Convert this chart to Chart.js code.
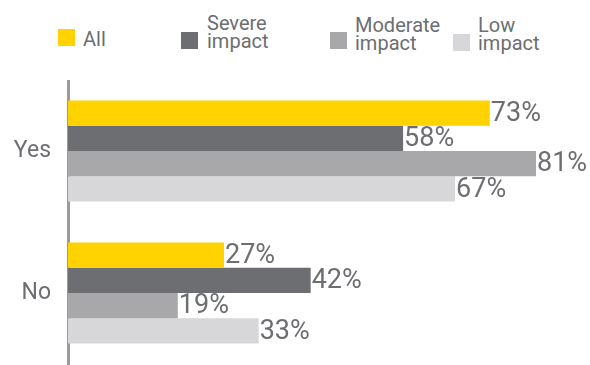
<!DOCTYPE html>
<html>
<head>
<meta charset="utf-8">
<script src="https://cdn.jsdelivr.net/npm/chart.js@4/dist/chart.umd.min.js"></script>
<style>
  body { margin: 0; background: #fff; font-family: Roboto, sans-serif; overflow: hidden; }
  #wrap { position: relative; width: 590px; height: 365px; }
  #grafico { position: absolute; left: 0; top: 80px; }
  .caixa { position: absolute; width: 17px; height: 17px; }
  .texto { position: absolute; color: #6d6e71; font-size: 20px; line-height: 18px; white-space: nowrap; }
</style>
</head>
<body>
<div id="wrap">
  <div id="legenda"></div>
  <canvas id="grafico" width="590" height="285"></canvas>
</div>
<script>
// dados
const categorias = ['Yes', 'No'];
const rotulos = [['All'], ['Severe', 'impact'], ['Moderate', 'impact'], ['Low', 'impact']];
const todos = [73, 27];
const severo = [58, 42];
const moderado = [81, 19];
const baixo = [67, 33];
const cores = ['#ffd200', '#6d6e71', '#a8a8aa', '#d7d7d9'];

const cinza = '#6d6e71';

// legenda em HTML (rótulos de duas linhas)
// [caixa x, caixa y, texto x, texto y]
const posLegenda = [[58, 29, 83, 30], [181, 32, 207, 14], [330, 32, 355, 16], [453, 34, 478, 16]];
const legenda = document.getElementById('legenda');
rotulos.forEach((r, i) => {
  const p = posLegenda[i];
  const c = document.createElement('div');
  c.className = 'caixa';
  c.style.left = p[0] + 'px';
  c.style.top = p[1] + 'px';
  c.style.background = cores[i];
  legenda.appendChild(c);
  const t = document.createElement('div');
  t.className = 'texto';
  t.style.left = p[2] + 'px';
  t.style.top = p[3] + 'px';
  t.innerHTML = r.join('<br>');
  legenda.appendChild(t);
});

// valores ao lado das barras
const valoresPlugin = {
  id: 'valores',
  afterDatasetsDraw(chart) {
    const ctx = chart.ctx;
    ctx.save();
    ctx.font = '27px Roboto, sans-serif';
    ctx.fillStyle = cinza;
    ctx.textAlign = 'left';
    ctx.textBaseline = 'middle';
    chart.data.datasets.forEach((ds, i) => {
      chart.getDatasetMeta(i).data.forEach((bar, j) => {
        ctx.fillText(ds.data[j] + '%', bar.x + 1, bar.y + 1);
      });
    });
    ctx.restore();
  }
};

new Chart(document.getElementById('grafico'), {
  type: 'bar',
  data: {
    labels: categorias,
    datasets: [
      { label: rotulos[0].join(' '), data: todos, backgroundColor: cores[0] },
      { label: rotulos[1].join(' '), data: severo, backgroundColor: cores[1] },
      { label: rotulos[2].join(' '), data: moderado, backgroundColor: cores[2] },
      { label: rotulos[3].join(' '), data: baixo, backgroundColor: cores[3] }
    ]
  },
  options: {
    indexAxis: 'y',
    responsive: false,
    animation: false,
    datasets: { bar: { categoryPercentage: 0.71, barPercentage: 1 } },
    layout: { padding: { top: 0, right: 2, bottom: 1, left: 0 } },
    plugins: { legend: { display: false }, tooltip: { enabled: false } },
    scales: {
      x: { display: false, min: 0, max: 90 },
      y: {
        grid: { display: false, drawTicks: false },
        border: { color: '#9a9a9c', width: 3 },
        ticks: { color: cinza, padding: 17, font: { family: 'Roboto', size: 23 } },
        afterFit: s => {
          s.width = 68;
          s.paddingTop = 0;
          s.paddingBottom = 0;
        }
      }
    }
  },
  plugins: [valoresPlugin]
});
</script>
</body>
</html>
